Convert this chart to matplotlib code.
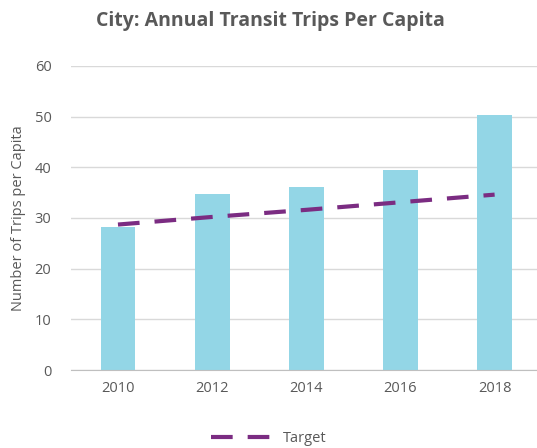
import numpy as np
import matplotlib.pyplot as plt

years = ['2010', '2012', '2014', '2016', '2018']
trips = [28.2, 34.8, 36.2, 39.4, 50.3]
target = [28.7, 30.2, 31.6, 33.1, 34.6]

plt.rcParams['font.family'] = ['Open Sans', 'DejaVu Sans']
grey = '#595959'

fig = plt.figure(figsize=(5.37, 4.48), dpi=100)
ax = fig.add_axes([0.132, 0.174, 0.868, 0.679])

x = np.arange(len(years))
ax.bar(x, trips, width=0.37, color='#93d6e6', zorder=2)
ax.plot(x, target, color='#7b2c82', linewidth=3, dashes=(5.2, 3.6), label='Target', zorder=3)

ax.set_ylim(0, 60)
ax.set_yticks(range(0, 61, 10))
ax.set_xlim(-0.5, 4.45)
ax.set_xticks(x)
ax.set_xticklabels(years)
ax.grid(axis='y', color='#d9d9d9', linewidth=1, zorder=0)
for s in ['top', 'right', 'left']:
    ax.spines[s].set_visible(False)
ax.spines['bottom'].set_color('#bfbfbf')
ax.tick_params(length=0, colors=grey, labelsize=10.5, pad=8)
ax.tick_params(axis='y', pad=14)
ax.set_ylabel('Number of Trips per Capita', color=grey, fontsize=10.5, labelpad=6)

fig.suptitle('City: Annual Transit Trips Per Capita', x=0.503, y=0.975,
             fontsize=14, fontweight='bold', color=grey)
fig.legend(loc='lower center', bbox_to_anchor=(0.5, -0.025), frameon=False,
           fontsize=10.5, labelcolor=grey, handlelength=4.1)

fig.savefig('out.png', dpi=100)
